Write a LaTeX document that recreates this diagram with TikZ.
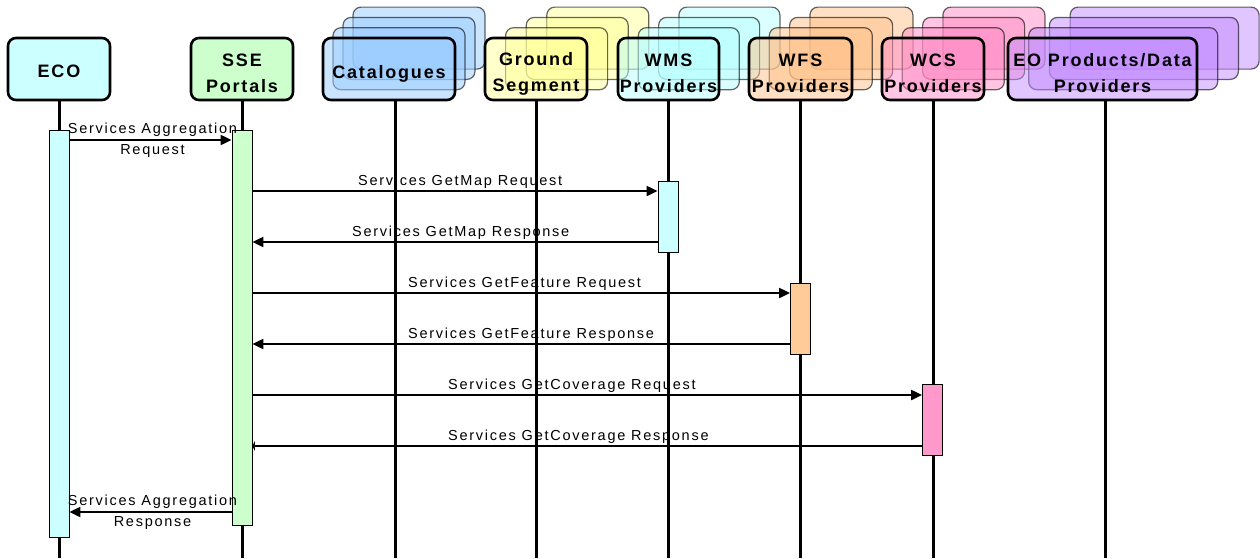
\documentclass[tikz,border=0pt]{standalone}
\usepackage{fontspec}
\setmainfont{Liberation Sans}
\newfontfamily\hdrfont[LetterSpace=10]{Liberation Sans}
\newfontfamily\msgfont[LetterSpace=12]{Liberation Sans}
\usetikzlibrary{arrows.meta}

\definecolor{ecoC}{HTML}{CCFFFF}
\definecolor{sseC}{HTML}{CCFFCC}
\definecolor{catC}{HTML}{99CCFF}
\definecolor{gndC}{HTML}{FFFF99}
\definecolor{wmsC}{HTML}{B8FFFF}
\definecolor{wfsC}{HTML}{FFC28A}
\definecolor{wcsC}{HTML}{FF8CC6}
\definecolor{eoC}{HTML}{C48CFF}
\definecolor{wfsA}{HTML}{FFCC99}
\definecolor{wcsA}{HTML}{FF99CC}

\begin{document}
\begin{tikzpicture}[x=1pt,y=-1pt,
  hdr/.style={draw=black, line width=2.6pt, rounded corners=8pt,
    minimum height=62pt, inner sep=0pt},
  ghost/.style={draw=black, draw opacity=0.6, line width=1.2pt,
    rounded corners=8pt, minimum height=62pt, inner sep=0pt, fill opacity=0.5},
  hdrtext/.style={font=\hdrfont\bfseries\fontsize{18}{26}\selectfont,
    align=center, text=black, text opacity=1, inner sep=0pt,
    text depth=4pt, yshift=-4.5pt},
  hdrlow/.style={hdrtext, yshift=-1.5pt},
  life/.style={line width=3pt, black},
  act/.style={draw=black, line width=0.8pt, minimum width=20pt, inner sep=0pt},
  msg/.style={line width=2pt, -{Triangle[length=11pt,width=10pt]}},
  stub/.style={line width=2pt, -{Triangle[length=2.5pt,width=10pt]}},
  lbl/.style={font=\msgfont\fontsize{14.5}{21}\selectfont, inner sep=0pt},
  lbltwo/.style={lbl, align=center}]

\useasboundingbox (0,0) rectangle (1260,558);
\fill[white] (0,0) rectangle (1260,558);

% ---- single participants ----
\node[hdr, fill=ecoC, minimum width=102pt,
      label={[hdrtext, name=eco-t]center:ECO}] (eco) at (59,69) {};
\node[hdr, fill=sseC, minimum width=102pt,
      label={[hdrlow, name=sse-t]center:SSE\\Portals}] (sse) at (242,69) {};

% ---- stacked participants: three shadow copies behind a front box ----
\foreach \k in {3,2,1}
  \node[ghost, fill=catC, minimum width=132pt] (cat-\k) at ({389+10*\k},{69-10.3*\k}) {};
\node[hdr, fill=catC, fill opacity=0.5, minimum width=132pt,
      label={[hdrtext, name=cat-t]center:Catalogues}] (cat) at (389,69) {};

\foreach \k in {3,2,1}
  \node[ghost, fill=gndC, minimum width=102pt] (gnd-\k) at ({536+20.6*\k},{69-10.3*\k}) {};
\node[hdr, fill=gndC, fill opacity=0.5, minimum width=102pt,
      label={[hdrtext, name=gnd-t]center:Ground\\Segment}] (gnd) at (536,69) {};

\foreach \k in {3,2,1}
  \node[ghost, fill=wmsC, minimum width=101pt] (wms-\k) at ({668.5+20.3*\k},{69-10.3*\k}) {};
\node[hdr, fill=wmsC, fill opacity=0.5, minimum width=101pt,
      label={[hdrlow, name=wms-t]center:WMS\\Providers}] (wms) at (668.5,69) {};

\foreach \k in {3,2,1}
  \node[ghost, fill=wfsC, minimum width=103pt] (wfs-\k) at ({800.5+20.3*\k},{69-10.3*\k}) {};
\node[hdr, fill=wfsC, fill opacity=0.5, minimum width=103pt,
      label={[hdrlow, name=wfs-t]center:WFS\\Providers}] (wfs) at (800.5,69) {};

\foreach \k in {3,2,1}
  \node[ghost, fill=wcsC, minimum width=102pt] (wcs-\k) at ({933+20.3*\k},{69-10.3*\k}) {};
\node[hdr, fill=wcsC, fill opacity=0.5, minimum width=102pt,
      label={[hdrlow, name=wcs-t]center:WCS\\Providers}] (wcs) at (933,69) {};

\foreach \k in {3,2,1}
  \node[ghost, fill=eoC, minimum width=189pt] (eo-\k) at ({1102.5+20.7*\k},{69-10.3*\k}) {};
\node[hdr, fill=eoC, fill opacity=0.5, minimum width=189pt,
      label={[hdrlow, name=eo-t]center:EO Products/Data\\Providers}] (eo) at (1102.5,69) {};

% ---- lifelines ----
\draw[life] (eco.south) -- (eco.south |- 0,558);
\draw[life] (sse.south) -- (sse.south |- 0,558);
\draw[life] ([xshift=6pt]cat.south) -- ([xshift=6pt]cat.south |- 0,558);
\draw[life] (gnd.south) -- (gnd.south |- 0,558);
\draw[life] (wms.south) -- (wms.south |- 0,558);
\draw[life] (wfs.south) -- (wfs.south |- 0,558);
\draw[life] (wcs.south) -- (wcs.south |- 0,558);
\draw[life] ([xshift=2.5pt]eo.south) -- ([xshift=2.5pt]eo.south |- 0,558);

% ---- activation bars ----
\node[act, fill=ecoC, minimum height=407pt] (ecoA) at (59,333.5) {};
\node[act, fill=sseC, minimum height=395pt] (sseA) at (242,327.5) {};
\node[act, fill=ecoC, minimum height=71pt] (wmsA) at (668,216.5) {};
\node[act, fill=wfsA, minimum height=71pt] (wfsA) at (800.5,318.5) {};
\node[act, fill=wcsA, minimum height=71pt] (wcsA) at (932.5,419.5) {};

% ---- messages ----
\draw[msg] (ecoA.east |- 0,140) -- (sseA.west |- 0,140)
  node[lbltwo, midway, xshift=2pt] (m1) {Services Aggregation\\Request};

\draw[msg] (sseA.east |- 0,191) -- (wmsA.west |- 0,191);
\node[lbl, anchor=base west] (m2) at (358,185.5) {Services GetMap Request};
\draw[msg] (wmsA.west |- 0,242) -- (sseA.east |- 0,242);
\node[lbl, anchor=base west] (m3) at (352,236.5) {Services GetMap Response};

\draw[msg] (sseA.east |- 0,293) -- (wfsA.west |- 0,293);
\node[lbl, anchor=base west] (m4) at (408,287.5) {Services GetFeature Request};
\draw[msg] (wfsA.west |- 0,344) -- (sseA.east |- 0,344);
\node[lbl, anchor=base west] (m5) at (408,338.5) {Services GetFeature Response};

\draw[msg] (sseA.east |- 0,395) -- (wcsA.west |- 0,395);
\node[lbl, anchor=base west] (m6) at (448,389.5) {Services GetCoverage Request};
\draw[stub] (wcsA.west |- 0,446) -- (sseA.east |- 0,446);
\node[lbl, anchor=base west] (m7) at (448,440.5) {Services GetCoverage Response};

\draw[msg] (sseA.west |- 0,512) -- (ecoA.east |- 0,512)
  node[lbltwo, midway, xshift=2pt] (m8) {Services Aggregation\\Response};

\end{tikzpicture}
\end{document}
